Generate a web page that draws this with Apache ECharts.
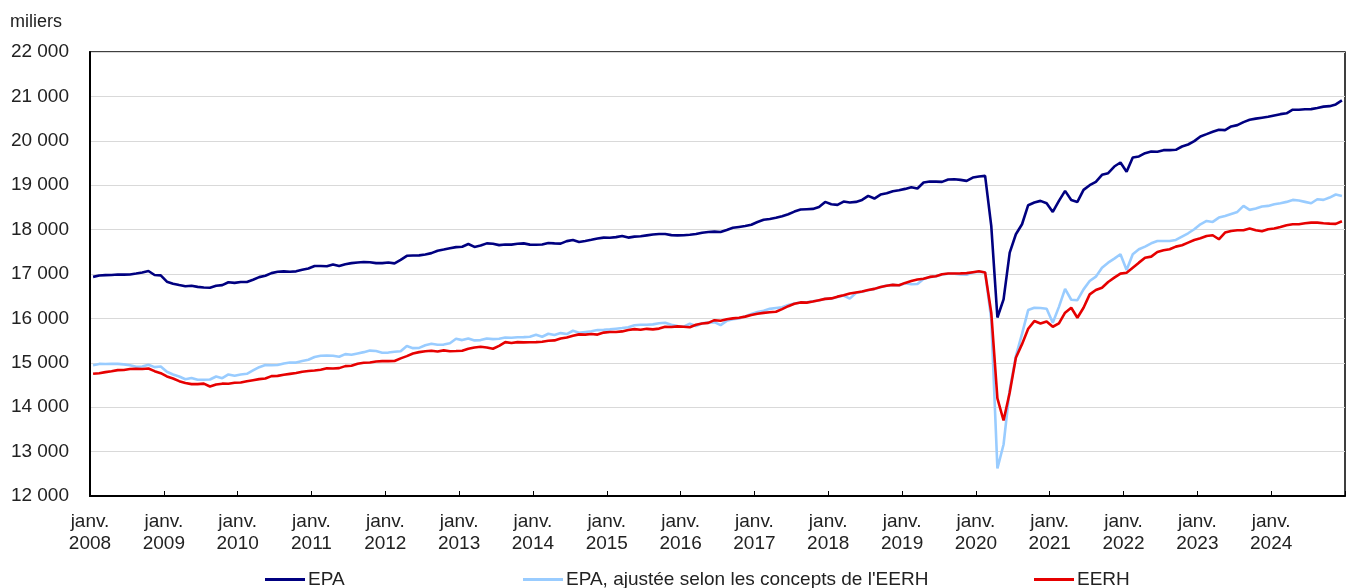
<!DOCTYPE html>
<html>
<head>
<meta charset="utf-8">
<script src="https://cdn.jsdelivr.net/npm/echarts@6/dist/echarts.min.js"></script>
<style>
  html, body { margin: 0; padding: 0; background: #fff; }
  #chart { width: 1348px; height: 588px; }
</style>
</head>
<body>
<div id="chart"></div>
<script>
// Monthly data, janv. 2008 – déc. 2024 (milliers)
const startYear = 2008;
const yearTicks = ['2008','2009','2010','2011','2012','2013','2014','2015','2016','2017','2018','2019','2020','2021','2022','2023','2024'];
const seriesNames = ['EPA', "EPA, ajustée selon les concepts de l'EERH", 'EERH'];

const epa = [
  16935, 16965, 16975, 16978, 16990, 16985, 16990, 17010, 17035, 17068, 16977, 16970,
  16827, 16782, 16752, 16725, 16735, 16710, 16695, 16692, 16737, 16750, 16815, 16800,
  16820, 16820, 16872, 16930, 16960, 17020, 17050, 17060, 17050, 17060, 17095, 17125,
  17180, 17180, 17175, 17215, 17180, 17220, 17245, 17260, 17270, 17265, 17245, 17245,
  17260, 17240, 17320, 17410, 17415, 17420, 17440, 17470, 17525, 17550, 17580, 17605,
  17615, 17675, 17610, 17640, 17690, 17680, 17650, 17665, 17662, 17680, 17690, 17662,
  17660, 17665, 17699, 17690, 17684, 17740, 17765, 17722, 17745, 17770, 17800, 17820,
  17815, 17830, 17855, 17820, 17842, 17850, 17870, 17890, 17900, 17900, 17875, 17870,
  17872, 17885, 17900, 17930, 17945, 17955, 17945, 17990, 18040, 18060, 18080, 18110,
  18170, 18220, 18240, 18265, 18300, 18346, 18406, 18451, 18460, 18466, 18511, 18624,
  18571, 18556, 18632, 18610, 18624, 18669, 18759, 18699, 18789, 18820, 18865, 18887,
  18917, 18955, 18925, 19060, 19083, 19080, 19075, 19128, 19135, 19120, 19098, 19173,
  19195, 19210, 18083, 16020, 16430, 17481, 17895, 18120, 18549, 18609, 18647, 18594,
  18398, 18647, 18872, 18669, 18624, 18895, 19000, 19075, 19233, 19271, 19421, 19511,
  19301, 19624, 19647, 19722, 19759, 19752, 19789, 19789, 19797, 19872, 19917, 19992,
  20098, 20150, 20203, 20248, 20241, 20323, 20353, 20421, 20474, 20500, 20520, 20540,
  20570, 20600, 20620, 20700, 20700, 20712, 20714, 20740, 20770, 20780, 20820, 20910
];

const epaAdj = [
  14947, 14975, 14972, 14975, 14975, 14965, 14945, 14910, 14915, 14955, 14902, 14917,
  14797, 14737, 14692, 14630, 14660, 14617, 14617, 14624, 14692, 14654, 14737, 14707,
  14737, 14752, 14827, 14902, 14950, 14945, 14950, 14985, 15005, 15005, 15040, 15070,
  15130, 15160, 15165, 15158, 15135, 15195, 15180, 15210, 15240, 15275, 15265, 15228,
  15230, 15250, 15260, 15376, 15330, 15335, 15395, 15429, 15406, 15410, 15440, 15541,
  15511, 15549, 15504, 15511, 15549, 15534, 15541, 15571, 15565, 15575, 15579, 15586,
  15632, 15586, 15654, 15624, 15669, 15647, 15722, 15677, 15695, 15710, 15737, 15744,
  15752, 15767, 15782, 15800, 15845, 15857, 15857, 15865, 15890, 15902, 15857, 15827,
  15812, 15880, 15830, 15890, 15905, 15917, 15850, 15945, 15980, 16000, 16045, 16098,
  16143, 16173, 16215, 16235, 16250, 16300, 16335, 16360, 16365, 16385, 16405, 16440,
  16445, 16480, 16515, 16445, 16570, 16600, 16635, 16665, 16700, 16740, 16755, 16740,
  16790, 16770, 16775, 16890, 16925, 16950, 16990, 17005, 17005, 16990, 16985, 17035,
  17050, 17040, 15977, 12620, 13160, 14400, 15150, 15650, 16188, 16241, 16233, 16218,
  15902, 16260, 16665, 16420, 16410, 16654, 16842, 16940, 17143, 17256, 17346, 17444,
  17090, 17444, 17556, 17617, 17692, 17744, 17744, 17744, 17767, 17842, 17917, 18008,
  18120, 18195, 18173, 18271, 18308, 18353, 18398, 18534, 18444, 18474, 18519, 18534,
  18571, 18594, 18624, 18669, 18654, 18624, 18594, 18684, 18669, 18722, 18790, 18759
];

const eerh = [
  14752, 14765, 14790, 14810, 14835, 14838, 14860, 14865, 14860, 14872, 14812, 14767,
  14692, 14647, 14586, 14545, 14520, 14519, 14530, 14466, 14511, 14530, 14528, 14549,
  14556, 14586, 14609, 14632, 14645, 14700, 14705, 14730, 14750, 14770, 14800, 14815,
  14825, 14845, 14875, 14870, 14880, 14925, 14935, 14980, 15000, 15008, 15030, 15038,
  15038, 15040, 15100, 15150, 15210, 15240, 15260, 15270, 15255, 15280, 15260, 15265,
  15271, 15316, 15346, 15361, 15346, 15316, 15380, 15466, 15444, 15466, 15460, 15462,
  15466, 15474, 15496, 15504, 15549, 15571, 15610, 15640, 15635, 15647, 15635, 15680,
  15695, 15692, 15707, 15737, 15759, 15745, 15765, 15752, 15770, 15812, 15805, 15820,
  15812, 15800, 15857, 15885, 15900, 15960, 15947, 15980, 16000, 16015, 16040, 16075,
  16105, 16125, 16140, 16150, 16210, 16275, 16330, 16360, 16355, 16380, 16410, 16440,
  16450, 16490, 16520, 16560, 16585, 16605, 16640, 16665, 16705, 16735, 16755, 16745,
  16800, 16840, 16875, 16895, 16935, 16950, 16995, 17010, 17012, 17015, 17020, 17040,
  17060, 17035, 16128, 14200, 13700, 14330, 15113, 15420, 15767, 15940, 15887, 15932,
  15812, 15887, 16128, 16241, 16015, 16241, 16541, 16639, 16692, 16820, 16917, 17008,
  17030, 17143, 17256, 17368, 17391, 17496, 17534, 17556, 17617, 17647, 17707, 17767,
  17805, 17857, 17872, 17782, 17932, 17970, 17985, 17985, 18023, 17985, 17962, 18008,
  18023, 18060, 18098, 18120, 18120, 18143, 18158, 18158, 18143, 18135, 18130, 18188
];

const yMin = 12000, yMax = 22000, yStep = 1000;
const colors = ['#000080', '#99ccff', '#e60000'];
const FONT = "'Liberation Sans', Arial, sans-serif";

// points placed at the middle of each month
const toPts = arr => arr.map((v, i) => [i + 0.5, v]);
const nMonths = epa.length;
const xMax = Math.ceil(nMonths / 12) * 12;

const fmtThousands = v => String(v).replace(/\B(?=(\d{3})+(?!\d))/g, ' ');

const chart = echarts.init(document.getElementById('chart'), null, { renderer: 'canvas' });

const legendBase = {
  orient: 'horizontal',
  top: 565,
  icon: 'rect',
  itemWidth: 40,
  itemHeight: 3,
  textStyle: { fontFamily: FONT, fontSize: 19, color: '#222', padding: [0, 0, 0, -2] },
  selectedMode: false
};

chart.setOption({
  animation: false,
  textStyle: { fontFamily: FONT },
  title: {
    text: 'miliers',
    left: 5, top: 8,
    textStyle: { fontFamily: FONT, fontSize: 18, fontWeight: 'normal', color: '#222' }
  },
  legend: [
    Object.assign({}, legendBase, { left: 260, data: [seriesNames[0]] }),
    Object.assign({}, legendBase, { left: 518, data: [seriesNames[1]] }),
    Object.assign({}, legendBase, { left: 1029, data: [seriesNames[2]] })
  ],
  grid: {
    left: 90, right: 2, top: 52, bottom: 92,
    show: true, borderColor: '#000', borderWidth: 1.5, backgroundColor: 'transparent'
  },
  xAxis: {
    type: 'value',
    min: 0, max: xMax, interval: 12,
    axisLine: { show: true, onZero: false, lineStyle: { color: '#000', width: 2 } },
    axisTick: { show: true, inside: true, length: 5, lineStyle: { color: '#000', width: 1 } },
    splitLine: { show: false },
    axisLabel: {
      margin: 15,
      fontFamily: FONT, fontSize: 19, color: '#222', lineHeight: 22,
      formatter: v => {
        const k = Math.round(v / 12);
        return k < yearTicks.length ? 'janv.\n' + yearTicks[k] : '';
      }
    }
  },
  yAxis: {
    type: 'value',
    min: yMin, max: yMax, interval: yStep,
    axisLine: { show: true, lineStyle: { color: '#000', width: 2 } },
    axisTick: { show: false },
    splitLine: { show: true, lineStyle: { color: '#d9d9d9', width: 1.2 } },
    axisLabel: {
      margin: 21,
      fontFamily: FONT, fontSize: 19, color: '#222',
      formatter: v => fmtThousands(v)
    }
  },
  series: [
    { name: seriesNames[0], type: 'line', data: toPts(epa), showSymbol: false,
      lineStyle: { color: colors[0], width: 2.6 }, itemStyle: { color: colors[0] } },
    { name: seriesNames[1], type: 'line', data: toPts(epaAdj), showSymbol: false,
      lineStyle: { color: colors[1], width: 2.6 }, itemStyle: { color: colors[1] } },
    { name: seriesNames[2], type: 'line', data: toPts(eerh), showSymbol: false,
      lineStyle: { color: colors[2], width: 2.6 }, itemStyle: { color: colors[2] } }
  ]
});
</script>
</body>
</html>
